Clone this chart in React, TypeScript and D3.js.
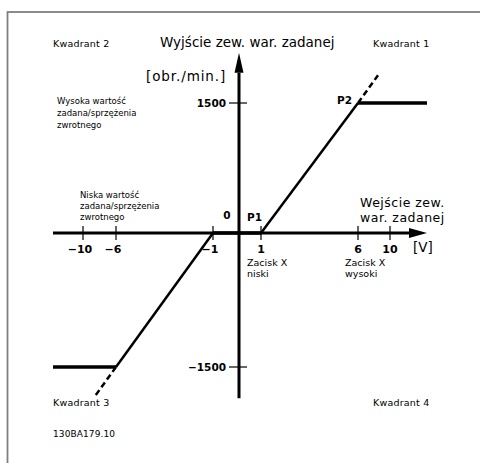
import React from "react";
import * as d3 from "d3";

// Axis break points (input voltage) and their placement (non-linear drawing scale)
const xDomain = [-13.6, -10, -6, -1, 0, 1, 6, 10, 14.6];
const xTicks = [-10, -6, -1, 1, 6, 10];
const xTickLabels = ["−10", "−6", "−1", "1", "6", "10"];
const yDomain = [-1500, 0, 1500];
const yTicks = [1500, -1500];
const yTickLabels = ["1500", "−1500"];
const yAxisTop = 2080;
const yAxisBottom = -1850;

// Transfer characteristic
const upperRamp = [[1, 0], [6, 1500]];
const upperFlat = [[6, 1500], [14.6, 1500]];
const upperDash = [[6, 1500], [8.5, 1820]];
const lowerRamp = [[-1, 0], [-6, -1500]];
const lowerFlat = [[-13.6, -1500], [-6, -1500]];
const lowerDash = [[-6, -1500], [-8.5, -1820]];
const deadBand = [[-1, 0], [1, 0]];

const quadrants = ["Kwadrant 1", "Kwadrant 2", "Kwadrant 3", "Kwadrant 4"];
const highText = ["Wysoka wartość", "zadana/sprzężenia", "zwrotnego"];
const lowText = ["Niska wartość", "zadana/sprzężenia", "zwrotnego"];

export default function App() {
  const x = d3.scaleLinear().domain(xDomain).range([53, 83, 116, 213, 239, 261, 358, 390, 427]);
  const y = d3.scaleLinear().domain(yDomain).range([367, 233, 103]);
  const line = d3.line<number[]>().x((d) => x(d[0])).y((d) => y(d[1]));
  const font = "DejaVu Sans, Verdana, sans-serif";
  const x0 = x(0);
  const y0 = y(0);
  const xEnd = x(xDomain[xDomain.length - 1]);
  const yTop = y(yAxisTop);

  return (
    <svg
      width={480}
      height={463}
      style={{ position: "absolute", left: 0, top: 0, background: "#fff" }}
      fontFamily={font}
    >
      <rect x={7.5} y={12} width={480} height={470} fill="none" stroke="#808080" strokeWidth={1.8} />

      {/* axes */}
      <line x1={x(xDomain[0])} y1={y0} x2={xEnd - 18} y2={y0} stroke="#000" strokeWidth={3} />
      <polygon points={`${xEnd - 18},${y0 - 5} ${xEnd},${y0} ${xEnd - 18},${y0 + 5}`} fill="#000" />
      <line x1={x0} y1={y(yAxisBottom)} x2={x0} y2={yTop + 20} stroke="#000" strokeWidth={3} />
      <polygon points={`${x0 - 4.5},${yTop + 20} ${x0},${yTop} ${x0 + 4.5},${yTop + 20}`} fill="#000" />

      {xTicks.map((t, i) => (
        <g key={"xt" + t}>
          <line x1={x(t)} x2={x(t)} y1={y0 - 7} y2={y0 + 7} stroke="#000" strokeWidth={1.2} />
          <text x={x(t) + (t < 0 ? -3 : 0)} y={253} textAnchor="middle" fontSize={11} fontWeight="bold">
            {xTickLabels[i]}
          </text>
        </g>
      ))}
      {yTicks.map((t, i) => (
        <g key={"yt" + t}>
          <line x1={x0 - 10} x2={x0 + 8} y1={y(t)} y2={y(t)} stroke="#000" strokeWidth={1.2} />
          <text x={226} y={y(t) + 4} textAnchor="end" fontSize={10.5} fontWeight="bold">
            {yTickLabels[i]}
          </text>
        </g>
      ))}

      {/* characteristic */}
      <path d={line(deadBand) || ""} stroke="#000" strokeWidth={3.5} fill="none" />
      <path d={line(upperRamp) || ""} stroke="#000" strokeWidth={2.5} fill="none" />
      <path d={line(upperFlat) || ""} stroke="#000" strokeWidth={3.5} fill="none" />
      <path d={line(upperDash) || ""} stroke="#000" strokeWidth={2.5} fill="none" strokeDasharray="6,3.5" />
      <path d={line(lowerRamp) || ""} stroke="#000" strokeWidth={2.5} fill="none" />
      <path d={line(lowerFlat) || ""} stroke="#000" strokeWidth={3.5} fill="none" />
      <path d={line(lowerDash) || ""} stroke="#000" strokeWidth={2.5} fill="none" strokeDasharray="6,3.5" />

      {/* titles */}
      <text x={160} y={47} fontSize={13.5}>Wyjście zew. war. zadanej</text>
      <text x={146} y={81} fontSize={13.5} letterSpacing={0.9}>[obr./min.]</text>
      <text x={360} y={206.5} fontSize={12.5} letterSpacing={0.5}>Wejście zew.</text>
      <text x={360} y={221.5} fontSize={12.5} letterSpacing={0.5}>war. zadanej</text>
      <text x={413} y={252} fontSize={13.5}>[V]</text>

      <text x={227} y={219} textAnchor="middle" fontSize={10.5} fontWeight="bold">0</text>
      <text x={247} y={221} fontSize={10.5} fontWeight="bold">P1</text>
      <text x={337} y={104} fontSize={10.5} fontWeight="bold">P2</text>

      {/* quadrant labels */}
      <text x={373} y={47} fontSize={9.5} letterSpacing={0.2}>{quadrants[0]}</text>
      <text x={53} y={47} fontSize={9.5} letterSpacing={0.2}>{quadrants[1]}</text>
      <text x={53} y={406} fontSize={9.5} letterSpacing={0.2}>{quadrants[2]}</text>
      <text x={373} y={406} fontSize={9.5} letterSpacing={0.2}>{quadrants[3]}</text>
      <text x={53} y={437} fontSize={9} letterSpacing={0.1}>130BA179.10</text>

      {highText.map((s, i) => (
        <text key={"h" + i} x={57} y={104 + i * 12} fontSize={8.5}>{s}</text>
      ))}
      {lowText.map((s, i) => (
        <text key={"l" + i} x={80} y={198 + i * 11} fontSize={8.5}>{s}</text>
      ))}

      <text x={247} y={266} fontSize={9.5}>Zacisk X</text>
      <text x={247} y={277} fontSize={9.5}>niski</text>
      <text x={345} y={266} fontSize={9.5}>Zacisk X</text>
      <text x={345} y={277} fontSize={9.5}>wysoki</text>
    </svg>
  );
}
